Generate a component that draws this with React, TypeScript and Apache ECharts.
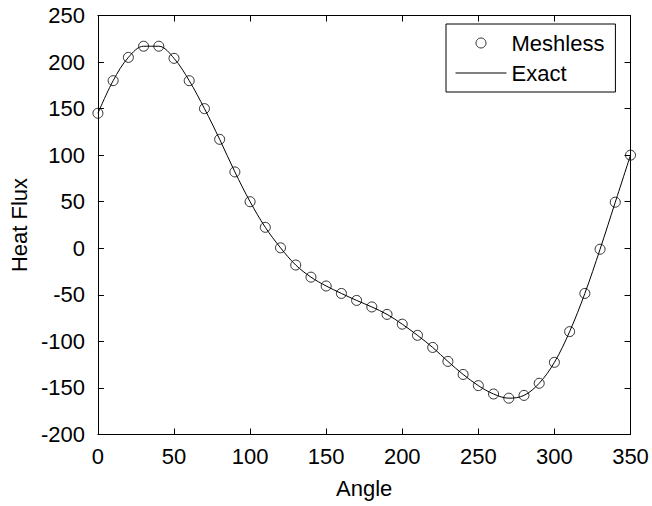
import React, { useEffect, useRef } from "react";
import * as echarts from "echarts";

const angles = [0, 10, 20, 30, 40, 50, 60, 70, 80, 90, 100, 110, 120, 130, 140, 150, 160, 170, 180, 190, 200, 210, 220, 230, 240, 250, 260, 270, 280, 290, 300, 310, 320, 330, 340, 350];
const meshless = [145, 180, 205, 217, 217, 204, 180, 150, 117, 82, 50, 22.5, 0.5, -18, -31, -40.5, -48.5, -56, -63, -71, -81.5, -93.5, -106.5, -121.5, -135.5, -147.5, -156.5, -161, -158, -145, -122.5, -89.5, -48.5, -1, 49.5, 100];
const exact = [145, 180, 205, 217, 217, 204, 180, 150, 117, 82, 50, 22.5, 0.5, -18, -31, -40.5, -48.5, -56, -63, -71, -81.5, -93.5, -106.5, -121.5, -135.5, -147.5, -156.5, -161, -158, -145, -122.5, -89.5, -48.5, -1, 49.5, 100];
const xTicks = { min: 0, max: 350, interval: 50 };
const yTicks = { min: -200, max: 250, interval: 50 };

const FONT = "'Liberation Sans', Arial, Helvetica, sans-serif";

export default function App() {
  const ref = useRef<HTMLDivElement>(null);
  useEffect(() => {
    if (!ref.current) return;
    const chart = echarts.init(ref.current, null, { renderer: "svg" });
    const axisLine = { show: true, onZero: false, lineStyle: { color: "#000", width: 1 } };
    const axisTick = { show: true, inside: true, length: 6, lineStyle: { color: "#000", width: 1 } };
    chart.setOption({
      animation: false,
      backgroundColor: "#fff",
      textStyle: { fontFamily: FONT },
      grid: { left: 96, right: 21.5, top: 15.5, bottom: 71.5, containLabel: false },
      xAxis: [
        {
          type: "value",
          ...xTicks,
          name: "Angle",
          nameLocation: "middle",
          nameGap: 43,
          nameTextStyle: { fontSize: 22, color: "#000", fontFamily: FONT },
          axisLine,
          axisTick,
          splitLine: { show: false },
          axisLabel: { fontSize: 22, color: "#000", margin: 11, fontFamily: FONT },
        },
        {
          type: "value",
          position: "top",
          ...xTicks,
          axisLine,
          axisTick,
          splitLine: { show: false },
          axisLabel: { show: false },
        },
      ],
      yAxis: [
        {
          type: "value",
          ...yTicks,
          name: "Heat Flux",
          nameLocation: "middle",
          nameGap: 66,
          nameRotate: 90,
          nameTextStyle: { fontSize: 22, color: "#000", fontFamily: FONT },
          axisLine,
          axisTick,
          splitLine: { show: false },
          axisLabel: { fontSize: 22, color: "#000", margin: 13, fontFamily: FONT },
        },
        {
          type: "value",
          position: "right",
          ...yTicks,
          axisLine,
          axisTick,
          splitLine: { show: false },
          axisLabel: { show: false },
        },
      ],
      legend: {
        show: true,
        orient: "vertical",
        left: 446,
        top: 24,
        padding: [8, 11, 8, 9],
        itemWidth: 51,
        itemHeight: 10,
        itemGap: 8,
        backgroundColor: "#fff",
        borderColor: "#000",
        borderWidth: 1,
        borderRadius: 0,
        textStyle: { fontSize: 22, color: "#000", fontFamily: FONT },
        data: [
          {
            name: "Meshless",
            icon: "circle",
            itemStyle: { color: "rgba(0,0,0,0)", borderColor: "#000", borderWidth: 1 },
          },
          {
            name: "Exact",
            itemStyle: { color: "rgba(0,0,0,0)", borderColor: "rgba(0,0,0,0)", borderWidth: 0 },
            lineStyle: { color: "#000", width: 1 },
          },
        ],
      },
      series: [
        {
          name: "Exact",
          type: "line",
          data: angles.map((a, i) => [a, exact[i]]),
          smooth: 0.35,
          symbol: "none",
          showSymbol: false,
          lineStyle: { color: "#000", width: 1 },
          itemStyle: { color: "#000" },
          z: 2,
        },
        {
          name: "Meshless",
          type: "scatter",
          data: angles.map((a, i) => [a, meshless[i]]),
          symbol: "circle",
          symbolSize: 10,
          itemStyle: { color: "rgba(0,0,0,0)", borderColor: "#000", borderWidth: 1 },
          z: 3,
        },
      ],
    });
    return () => chart.dispose();
  }, []);
  return (
    <div
      ref={ref}
      style={{ position: "fixed", left: 0, top: 0, width: 652, height: 506, background: "#fff" }}
    />
  );
}
